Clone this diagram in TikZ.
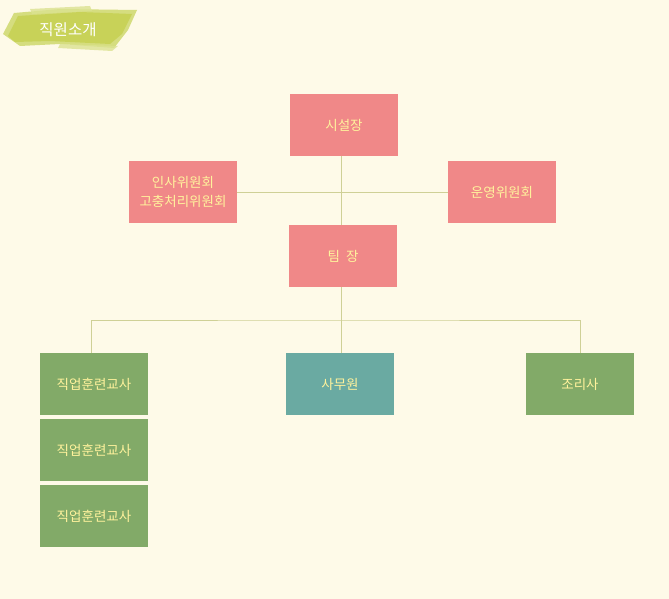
\documentclass[tikz,border=0pt]{standalone}
\usepackage{fontspec}
\setmainfont{Noto Sans CJK KR}
\usepackage{tikz}

\definecolor{bgcream}{HTML}{FEFAE8}
\definecolor{boxpink}{HTML}{F08888}
\definecolor{boxgreen}{HTML}{82AA68}
\definecolor{boxteal}{HTML}{6AAAA2}
\definecolor{labelyellow}{HTML}{FFF29C}
\definecolor{linkolive}{HTML}{CFD096}
\definecolor{brushgreen}{HTML}{C3CE48}

\begin{document}
\begin{tikzpicture}[x=1pt,y=-1pt]

% Box styles
\tikzset{
    orgbox/.style={
        minimum width=108pt,
        minimum height=62pt,
        inner sep=0pt,
        outer sep=0pt,
        align=center,
        text=labelyellow,
        font=\fontsize{13.5}{19}\selectfont
    },
    pinkbox/.style={orgbox,fill=boxpink},
    greenbox/.style={orgbox,fill=boxgreen},
    tealbox/.style={orgbox,fill=boxteal},
    link/.style={draw=linkolive,line width=1pt},
}
% Background
\fill[bgcream] (0,0) rectangle (669,599);
\useasboundingbox (0,0) rectangle (669,599);
% Title brush
\fill[brushgreen!70] (3,34) -- (14,13) -- (60,9) -- (137,10) -- (128,30) -- (114,48) -- (60,44) -- (20,46) -- cycle;
\fill[brushgreen,opacity=0.7] (8,36) -- (18,16) -- (80,12) -- (132,14) -- (122,34) -- (110,44) -- (50,41) -- (15,42) -- cycle;
\fill[brushgreen!60,opacity=0.8] (30,9) -- (90,6) -- (92,11) -- (32,14) -- cycle;
\fill[brushgreen!60,opacity=0.8] (60,44) -- (118,46) -- (112,51) -- (58,48) -- cycle;
\node
[
    text=white,
    font=\fontsize{15.5}{18}\selectfont
] (title) at (68,30) {직원소개};
% Upper boxes
\node[pinkbox] (head) at (344,125) {시설장};
\node[pinkbox] (hr) at (183,192) {인사위원회\\고충처리위원회};
\node[pinkbox] (ops) at (502,192) {운영위원회};
\node[pinkbox] (lead) at (343,256) {팀\ \ 장};
% Lower boxes
\node[greenbox] (teachA) at (94,384) {직업훈련교사};
\node[greenbox] (teachB) at (94,450) {직업훈련교사};
\node[greenbox] (teachC) at (94,516) {직업훈련교사};
\node[tealbox] (clerk) at (340,384) {사무원};
\node[greenbox] (cook) at (580,384) {조리사};
% Connectors
\coordinate (mid) at (341,192);
\coordinate (bus) at (341,320);
\draw[link] (head.south -| mid) -- (lead.north -| mid);
\draw[link] (hr.east) -- (ops.west);
\draw[link] (lead.south -| mid) -- (bus);
\draw[link] (teachA.north -| 91,0) |- (bus) -| (cook.north);
\draw[link] (bus) -- (clerk.north -| bus);
\end{tikzpicture}
\end{document}
